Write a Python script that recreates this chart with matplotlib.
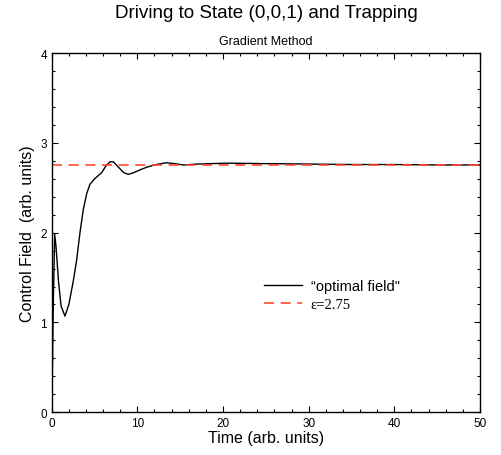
import numpy as np
import matplotlib
matplotlib.use('Agg')
import matplotlib.pyplot as plt
from matplotlib.ticker import MultipleLocator

# optimal control field
time = [0.0, 0.1, 0.2, 0.35, 0.5, 0.8, 1.1, 1.55, 2.0, 2.5, 2.92, 3.3, 3.69,
        4.1, 4.47, 5.0, 5.84, 6.3, 6.8, 7.2, 7.8, 8.4, 8.94, 9.6, 10.3, 11.1,
        12.2, 13.4, 14.3, 15.4, 17.0, 20.4, 25.0, 30.0, 35.0, 40.0, 45.0, 50.0]
field = [0.0, 0.6, 1.3, 1.98, 1.85, 1.45, 1.18, 1.07, 1.2, 1.45, 1.70, 2.0, 2.26,
         2.44, 2.54, 2.6, 2.67, 2.74, 2.79, 2.79, 2.73, 2.67, 2.65, 2.67, 2.70, 2.73,
         2.76, 2.78, 2.77, 2.755, 2.765, 2.775, 2.77, 2.765, 2.76, 2.76, 2.755, 2.755]
eps = 2.75

plt.rcParams['font.family'] = ['Liberation Sans', 'DejaVu Sans']

fig = plt.figure(figsize=(5.02, 4.56), dpi=100)
ax = fig.add_axes([0.103, 0.094, 0.853, 0.787])

ax.plot(time, field, color='black', linewidth=1.0, label='\u201coptimal field"')
ax.axhline(eps, color='#ff4a2a', linewidth=1.2, dashes=(6, 4), label='\u03b5=2.75')

ax.set_xlim(0, 50)
ax.set_ylim(0, 4)
ax.xaxis.set_major_locator(MultipleLocator(10))
ax.xaxis.set_minor_locator(MultipleLocator(2))
ax.yaxis.set_major_locator(MultipleLocator(1))
ax.yaxis.set_minor_locator(MultipleLocator(0.2))
ax.tick_params(which='both', direction='in', top=True, right=True, labelsize=8.5, width=0.8)
ax.tick_params(which='major', length=4)
ax.tick_params(which='minor', length=2)
for s in ax.spines.values():
    s.set_linewidth(1.0)

ax.set_xlabel('Time (arb. units)', fontsize=11.5, labelpad=1)
ax.set_ylabel('Control Field  (arb. units)', fontsize=11.5, labelpad=4)

fig.text(0.53, 0.97, 'Driving to State (0,0,1) and Trapping', ha='center', va='center', fontsize=13.6)
ax.set_title('Gradient Method', fontsize=9, pad=7)

leg = ax.legend(loc='upper left', bbox_to_anchor=(0.465, 0.407), frameon=False,
                fontsize=10.5, handlelength=2.6, handletextpad=0.6, labelspacing=0.3)
leg.get_texts()[1].set_family(['Liberation Serif', 'DejaVu Serif'])

fig.savefig('out.png', dpi=100)
